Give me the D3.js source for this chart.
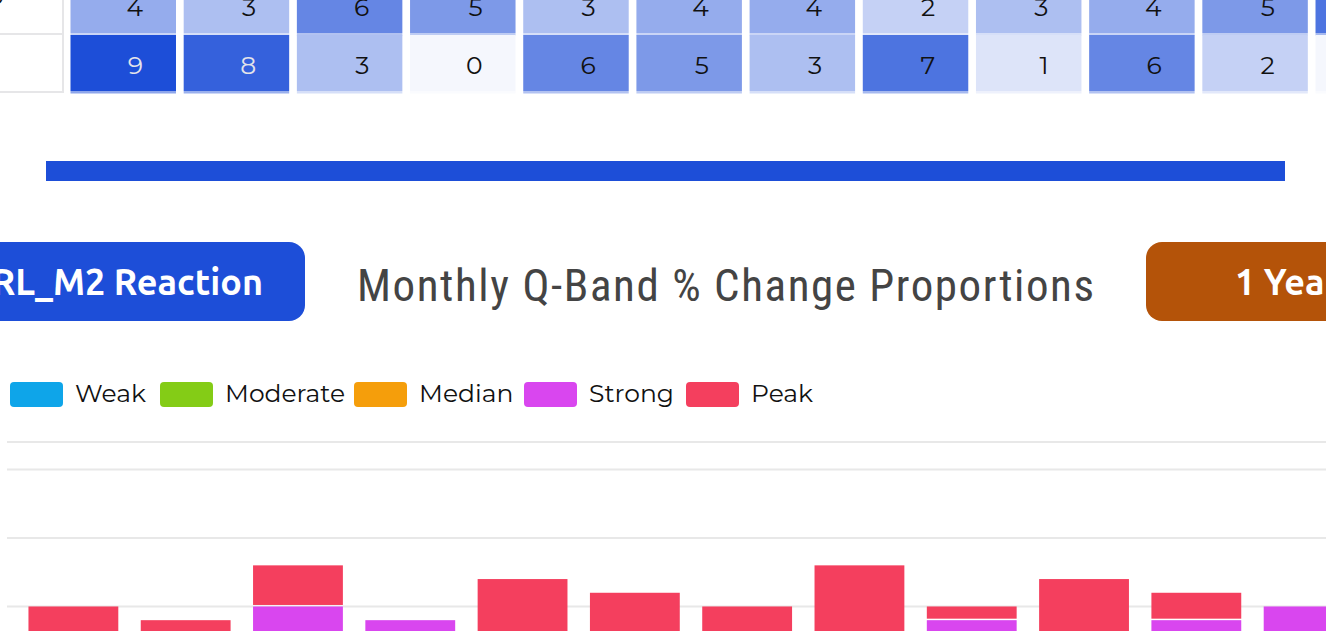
<!DOCTYPE html>
<html>
<head>
<meta charset="utf-8">
<script src="https://cdn.jsdelivr.net/npm/d3@7"></script>
<style>
  html, body { margin: 0; padding: 0; background: #fff; overflow: hidden; }
  svg { display: block; }
</style>
</head>
<body>
<svg id="chart" width="1326" height="631"></svg>
<script>
// heatmap (last two rows visible)
var months = ["Jan", "Feb", "Mar", "Apr", "May", "Jun", "Jul", "Aug", "Sep", "Oct", "Nov", "Dec"];
var heatLabels = ["Strong", "Peak"];
var heatStrong = [4, 3, 6, 5, 3, 4, 4, 2, 3, 4, 5, 7];
var heatPeak = [9, 8, 3, 0, 6, 5, 3, 7, 1, 6, 2, 0];

// stacked bars
var bands = ["Weak", "Moderate", "Median", "Strong", "Peak"];
var bandColors = ["#0ea5e9", "#84cc16", "#f59e0b", "#d946ef", "#f43f5e"];
var weak = [1, 1, 1, 1, 0, 1, 1, 1, 1, 1, 1, 0];
var moderate = [1, 1, 1, 1, 2, 1, 1, 1, 1, 1, 1, 2];
var median = [1, 1, 1, 1, 1, 1, 1, 1, 1, 1, 1, 1];
var strong = [0, 0, 2, 1, 0, 0, 0, 0, 1, 0, 1, 2];
var peak = [2, 1, 3, 0, 4, 3, 2, 5, 1, 4, 2, 0];
var yTicks = [0, 5, 10, 15, 17];

var title = "Monthly Q-Band % Change Proportions";
var leftButton = "CRL_M2 Reaction";
var rightButton = "1 Year";

var svg = d3.select("#chart");
var numFont = "Montserrat, 'DejaVu Sans', sans-serif";
var btnFont = "Ubuntu, 'Noto Sans', sans-serif";

// ---- heatmap ----
var heatX = d3.scaleBand()
	.domain(months)
	.range([70.5, 1421])
	.paddingInner(0.068)
	.paddingOuter(0);
var heatY = d3.scaleBand()
	.domain(heatLabels)
	.range([-23, 93]);
var heatColor = d3.scaleLinear()
	.domain([0, 9])
	.range(["#f5f7fd", "#1d4ed8"])
	.interpolate(d3.interpolateRgb);

var heatData = [];
heatLabels.forEach(function(r, i) {
	var vals = i == 0 ? heatStrong : heatPeak;
	months.forEach(function(m, j) {
		heatData.push({row: r, month: m, value: vals[j]});
	});
});

var heat = svg.append("g").attr("class", "heatmap");

// label column
heat.append("line")
	.attr("x1", 63).attr("x2", 63)
	.attr("y1", -30).attr("y2", 93)
	.attr("stroke", "#e6e6e8").attr("stroke-width", 2);
heatLabels.forEach(function(r) {
	heat.append("line")
		.attr("x1", -100).attr("x2", 62)
		.attr("y1", heatY(r) + 57).attr("y2", heatY(r) + 57)
		.attr("stroke", "#e6e6e8").attr("stroke-width", 2);
	heat.append("text")
		.attr("x", -80)
		.attr("y", heatY(r) + 22)
		.style("font-family", numFont)
		.style("font-size", "25px")
		.attr("fill", "#111")
		.text(r);
});

var cell = heat.selectAll(".cell")
	.data(heatData)
	.enter().append("g")
	.attr("class", "cell")
	.attr("transform", function(d) {
		return "translate(" + heatX(d.month) + "," + heatY(d.row) + ")";
	});

cell.append("rect")
	.attr("width", heatX.bandwidth())
	.attr("height", 56)
	.attr("fill", function(d) { return heatColor(d.value); });

cell.append("rect")
	.attr("y", 56)
	.attr("width", heatX.bandwidth())
	.attr("height", 2.5)
	.attr("fill", function(d) { return heatColor(d.value); })
	.attr("opacity", 0.5);

cell.append("text")
	.attr("x", heatX.bandwidth() - 33)
	.attr("y", 39)
	.style("text-anchor", "end")
	.style("font-family", numFont)
	.style("font-size", "25px")
	.attr("fill", function(d) { return d.value > 7 ? "#e4e4ea" : "#111"; })
	.text(function(d) { return d.value; });

// ---- divider bar ----
svg.append("rect")
	.attr("x", 46).attr("y", 161)
	.attr("width", 1239).attr("height", 20)
	.attr("fill", "#1d4ed8");

// ---- header ----
svg.append("rect")
	.attr("x", -220).attr("y", 242)
	.attr("width", 525).attr("height", 79)
	.attr("rx", 16)
	.attr("fill", "#1d4ed8");
svg.append("text")
	.attr("x", 263).attr("y", 295)
	.style("text-anchor", "end")
	.style("font-family", btnFont)
	.style("font-weight", 700)
	.style("font-size", "36px")
	.attr("fill", "#fff")
	.text(leftButton);

var titleText = svg.append("text")
	.attr("x", 357).attr("y", 301)
	.style("font-family", "'Roboto Condensed', Roboto, sans-serif")
	.style("font-size", "45px")
	.attr("fill", "#444")
	.text(title);
// spread the title to the width it has in the dashboard
var natural = titleText.node().getComputedTextLength();
titleText.style("letter-spacing", ((737 - natural) / (title.length - 1)) + "px");

svg.append("rect")
	.attr("x", 1146).attr("y", 242)
	.attr("width", 420).attr("height", 79)
	.attr("rx", 16)
	.attr("fill", "#b45309");
svg.append("text")
	.attr("x", 1235).attr("y", 295)
	.style("font-family", btnFont)
	.style("font-weight", 700)
	.style("font-size", "36px")
	.attr("fill", "#fff")
	.text(rightButton);

// ---- legend ----
var legendX = [10, 160, 354, 524, 686];
var legend = svg.selectAll(".swatch")
	.data(bands)
	.enter().append("g")
	.attr("class", "swatch")
	.attr("transform", function(d, i) {
		return "translate(" + legendX[i] + ",382)";
	});
legend.append("rect")
	.attr("width", 53)
	.attr("height", 25)
	.attr("rx", 4)
	.attr("fill", function(d, i) { return bandColors[i]; });
legend.append("text")
	.attr("x", 65)
	.attr("y", 20)
	.style("font-family", numFont)
	.style("font-size", "25px")
	.attr("fill", "#111")
	.text(function(d) { return d; });

// ---- stacked bars ----
var rows = months.map(function(m, i) {
	return {month: m, Weak: weak[i], Moderate: moderate[i], Median: median[i], Strong: strong[i], Peak: peak[i]};
});
var series = d3.stack().keys(bands)(rows);

var x = d3.scaleBand()
	.domain(months)
	.range([6, 1376])
	.paddingInner(0.2)
	.paddingOuter(0.2);
var y = d3.scaleLinear()
	.domain([0, 17])
	.range([675, 442]);

svg.append("g")
	.selectAll("line")
	.data(yTicks)
	.enter().append("line")
	.attr("x1", 7).attr("x2", 1400)
	.attr("y1", function(d) { return y(d); })
	.attr("y2", function(d) { return y(d); })
	.attr("stroke", "#e8e8e8")
	.attr("stroke-width", 2);

svg.append("g")
	.selectAll("g")
	.data(series)
	.enter().append("g")
	.attr("fill", function(d, i) { return bandColors[i]; })
	.selectAll("rect")
	.data(function(d) { return d.filter(function(p) { return p[1] > p[0]; }); })
	.enter().append("rect")
	.attr("x", function(d) { return x(d.data.month); })
	.attr("y", function(d) { return y(d[1]); })
	.attr("width", x.bandwidth())
	.attr("height", function(d) { return Math.max(0, y(d[0]) - y(d[1]) - 1.5); });
</script>
</body>
</html>
